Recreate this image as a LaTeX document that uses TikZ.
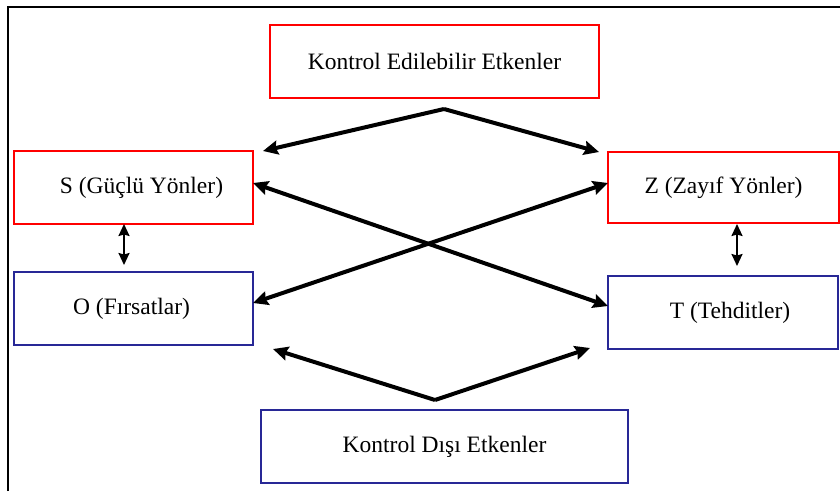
\documentclass[tikz,border=0pt]{standalone}
\usepackage{fontspec}
\setmainfont{Liberation Serif}
\usetikzlibrary{arrows.meta}
\definecolor{boxred}{RGB}{255,0,0}
\definecolor{boxblue}{RGB}{40,40,150}
\begin{document}
\begin{tikzpicture}[x=1pt,y=-1pt,
  box/.style={draw,line width=2.6pt,minimum width=#1,inner sep=0pt,font=\fontsize{23.5}{28}\selectfont},
  redbox/.style={box=#1,draw=boxred},
  bluebox/.style={box=#1,draw=boxblue},
  bigarrow/.style={line width=4pt,{Stealth[length=15pt,width=14pt,inset=2pt]}-{Stealth[length=15pt,width=14pt,inset=2pt]}},
  bigfork/.style={line width=4pt,-{Stealth[length=15pt,width=14pt,inset=2pt]},line join=miter},
  smallarrow/.style={line width=2pt,{Stealth[length=12pt,width=11pt,inset=1.5pt]}-{Stealth[length=12pt,width=11pt,inset=1.5pt]}}
]
\useasboundingbox (0,0) rectangle (840,491);
% frame
\draw[line width=2.6pt] (8,491) -- (8,7) -- (840,7);
% boxes
\node[redbox=329pt,minimum height=73pt] (K) at (434.5,61.5) {Kontrol Edilebilir Etkenler};
\node[redbox=239pt,minimum height=73pt] (S) at (133.5,187.5) {\hspace*{16pt}\raisebox{-4pt}{S (Güçlü Yönler)}};
\node[redbox=231pt,minimum height=71pt] (Z) at (723.5,187.5) {Z (Zayıf Yönler)};
\node[bluebox=239pt,minimum height=73pt] (O) at (133.5,308.5) {O (Fırsatlar)\hspace*{4pt}};
\node[bluebox=230pt,minimum height=73pt] (T) at (723,312.5) {\hspace*{14pt}T (Tehditler)};
\node[bluebox=367pt,minimum height=73pt] (D) at (444.5,446.5) {\raisebox{-3pt}{Kontrol Dışı Etkenler}};
% named points
\coordinate (kapex) at (444,109);
\coordinate (kl) at (263,151);
\coordinate (kr) at (599,152);
\coordinate (dapex) at (435,400);
\coordinate (dl) at (273,349);
\coordinate (dr) at (590,348);
\coordinate (se) at (253,183);
\coordinate (tw) at (608,306);
\coordinate (zw) at (608,183);
\coordinate (oe) at (253,303);
\coordinate (so1) at (124,224);
\coordinate (so2) at (124,265);
\coordinate (zt1) at (737,224);
\coordinate (zt2) at (737,266);
% arrows
\draw[bigfork] (kapex) -- (kl);
\draw[bigfork] (kapex) -- (kr);
\draw[bigfork] (dapex) -- (dl);
\draw[bigfork] (dapex) -- (dr);
\draw[bigarrow] (se) -- (tw);
\draw[bigarrow] (zw) -- (oe);
\draw[smallarrow] (so1) -- (so2);
\draw[smallarrow] (zt1) -- (zt2);
\end{tikzpicture}
\end{document}
